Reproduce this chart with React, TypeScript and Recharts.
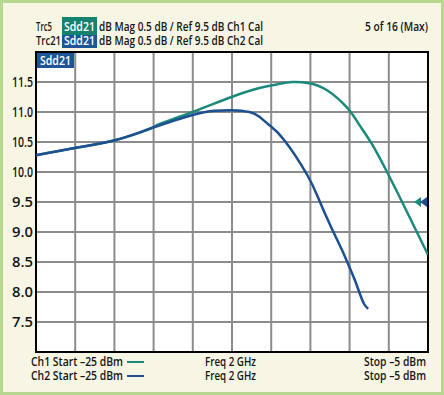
import { LineChart, Line, XAxis, YAxis, CartesianGrid, ReferenceArea, ReferenceDot } from "recharts";

const FONT = "'Open Sans', 'DejaVu Sans Condensed', sans-serif";
const TEAL = "#1b8a7c";
const BLUE = "#1d4f91";

// Ch1 (Trc5): power sweep in dBm vs Sdd21 in dB
const ch1Power = [-25, -23.02, -20.98, -19.2, -18.69, -17.01, -15.03, -13.6, -12.73, -11.92, -11.06, -10.19, -9.12, -8.51, -7.85, -7.09, -6.32, -5];
const ch1Gain = [10.28, 10.4, 10.53, 10.72, 10.8, 11.0, 11.25, 11.4, 11.46, 11.5, 11.48, 11.37, 11.07, 10.79, 10.46, 10.0, 9.5, 8.62];

// Ch2 (Trc21)
const ch2Power = [-25, -23.02, -20.98, -19.2, -17.01, -15.89, -15.03, -14.11, -13.6, -13.09, -12.33, -11.16, -10.55, -9.94, -9.43, -9.12, -8.77, -8.51, -8.26, -8.05];
const ch2Gain = [10.28, 10.4, 10.53, 10.72, 10.95, 11.02, 11.03, 11.0, 10.92, 10.78, 10.53, 9.95, 9.53, 9.08, 8.73, 8.5, 8.23, 8.0, 7.8, 7.72];

const xTicks = [-25, -23, -21, -19, -17, -15, -13, -11, -9, -7, -5];
const yTicks = [7, 7.5, 8, 8.5, 9, 9.5, 10, 10.5, 11, 11.5, 12];
const refLevel = 9.5;

const ch1Data = ch1Power.map((x, i) => ({ x, y: ch1Gain[i] }));
const ch2Data = ch2Power.map((x, i) => ({ x, y: ch2Gain[i] }));

const txt = { fontFamily: FONT, fontSize: 12.5, fontWeight: 600, fill: "#151515" };

function RefArrows(props: any) {
  const { cx, cy } = props;
  return (
    <g>
      <polygon points={`${cx - 14},${cy} ${cx - 7},${cy - 5} ${cx - 7},${cy + 5}`} fill={TEAL} />
      <polygon points={`${cx - 8},${cy} ${cx - 1},${cy - 5} ${cx - 1},${cy + 5}`} fill={BLUE} />
    </g>
  );
}

function YTick(props: any) {
  const { y, payload } = props;
  const v = payload.value;
  if (v === 7 || v === 12) return null;
  return (
    <text x={33} y={y + 5} textAnchor="end" {...txt} fontSize={13.5} textLength={21} lengthAdjust="spacingAndGlyphs">
      {v.toFixed(1)}
    </text>
  );
}

export default function App() {
  return (
    <div style={{ position: "absolute", left: 0, top: 0, width: 444, height: 395, background: "#b7d690" }}>
      <div style={{ position: "absolute", left: 3, top: 3, width: 438, height: 389, background: "#f7f6e4" }} />
      <div style={{ position: "absolute", left: 0, top: 0 }}>
        <LineChart width={444} height={395} data={ch1Data} margin={{ top: 52, right: 16, bottom: 43, left: 0 }}>
          <CartesianGrid stroke="#8c8c8c" strokeWidth={2} fill="#fff" />
          <XAxis type="number" dataKey="x" domain={[-25, -5]} ticks={xTicks} hide allowDataOverflow />
          <YAxis
            type="number"
            domain={[7, 12]}
            ticks={yTicks}
            width={36}
            axisLine={false}
            tickLine={false}
            interval={0}
            tick={<YTick />}
            allowDataOverflow
          />
          <Line data={ch1Data} dataKey="y" type="natural" stroke={TEAL} strokeWidth={2.5} dot={false} isAnimationActive={false} />
          <Line data={ch2Data} dataKey="y" type="natural" stroke={BLUE} strokeWidth={2.5} dot={false} isAnimationActive={false} />
          <ReferenceArea x1={-25} x2={-5} y1={7} y2={12} fill="none" stroke="#000" strokeWidth={2} />
          <ReferenceDot x={-5} y={refLevel} shape={RefArrows} />
        </LineChart>
      </div>
      <svg width={444} height={395} style={{ position: "absolute", left: 0, top: 0, pointerEvents: "none" }}>
        {/* header */}
        <text x={36} y={31} {...txt} textLength={16} lengthAdjust="spacingAndGlyphs">Trc5</text>
        <rect x={62} y={17} width={35} height={18} fill="#17816f" />
        <text x={64} y={31} {...txt} fill="#fff" textLength={31} lengthAdjust="spacingAndGlyphs">Sdd21</text>
        <text x={99} y={31} {...txt} textLength={164} lengthAdjust="spacingAndGlyphs">dB Mag 0.5 dB / Ref 9.5 dB Ch1 Cal</text>
        <text x={365} y={31} {...txt} textLength={63} lengthAdjust="spacingAndGlyphs">5 of 16 (Max)</text>
        <text x={36} y={45} {...txt} textLength={25} lengthAdjust="spacingAndGlyphs">Trc21</text>
        <rect x={62} y={35} width={35} height={13} fill="#1d5596" />
        <text x={64} y={45} {...txt} fill="#fff" textLength={31} lengthAdjust="spacingAndGlyphs">Sdd21</text>
        <text x={99} y={45} {...txt} textLength={164} lengthAdjust="spacingAndGlyphs">dB Mag 0.5 dB / Ref 9.5 dB Ch2 Cal</text>
        {/* trace label inside plot */}
        <rect x={37} y={53} width={37} height={15} fill="#1d5596" />
        <text x={40} y={65} {...txt} fill="#fff" textLength={31} lengthAdjust="spacingAndGlyphs">Sdd21</text>
        {/* footer */}
        <text x={31} y={366} {...txt} textLength={92} lengthAdjust="spacingAndGlyphs">Ch1 Start –25 dBm</text>
        <line x1={127} x2={144} y1={362} y2={362} stroke={TEAL} strokeWidth={2} />
        <text x={205} y={366} {...txt} textLength={51} lengthAdjust="spacingAndGlyphs">Freq 2 GHz</text>
        <text x={364} y={366} {...txt} textLength={62} lengthAdjust="spacingAndGlyphs">Stop –5 dBm</text>
        <text x={31} y={380} {...txt} textLength={92} lengthAdjust="spacingAndGlyphs">Ch2 Start –25 dBm</text>
        <line x1={127} x2={144} y1={376} y2={376} stroke={BLUE} strokeWidth={2} />
        <text x={205} y={380} {...txt} textLength={51} lengthAdjust="spacingAndGlyphs">Freq 2 GHz</text>
        <text x={364} y={380} {...txt} textLength={62} lengthAdjust="spacingAndGlyphs">Stop –5 dBm</text>
      </svg>
    </div>
  );
}
